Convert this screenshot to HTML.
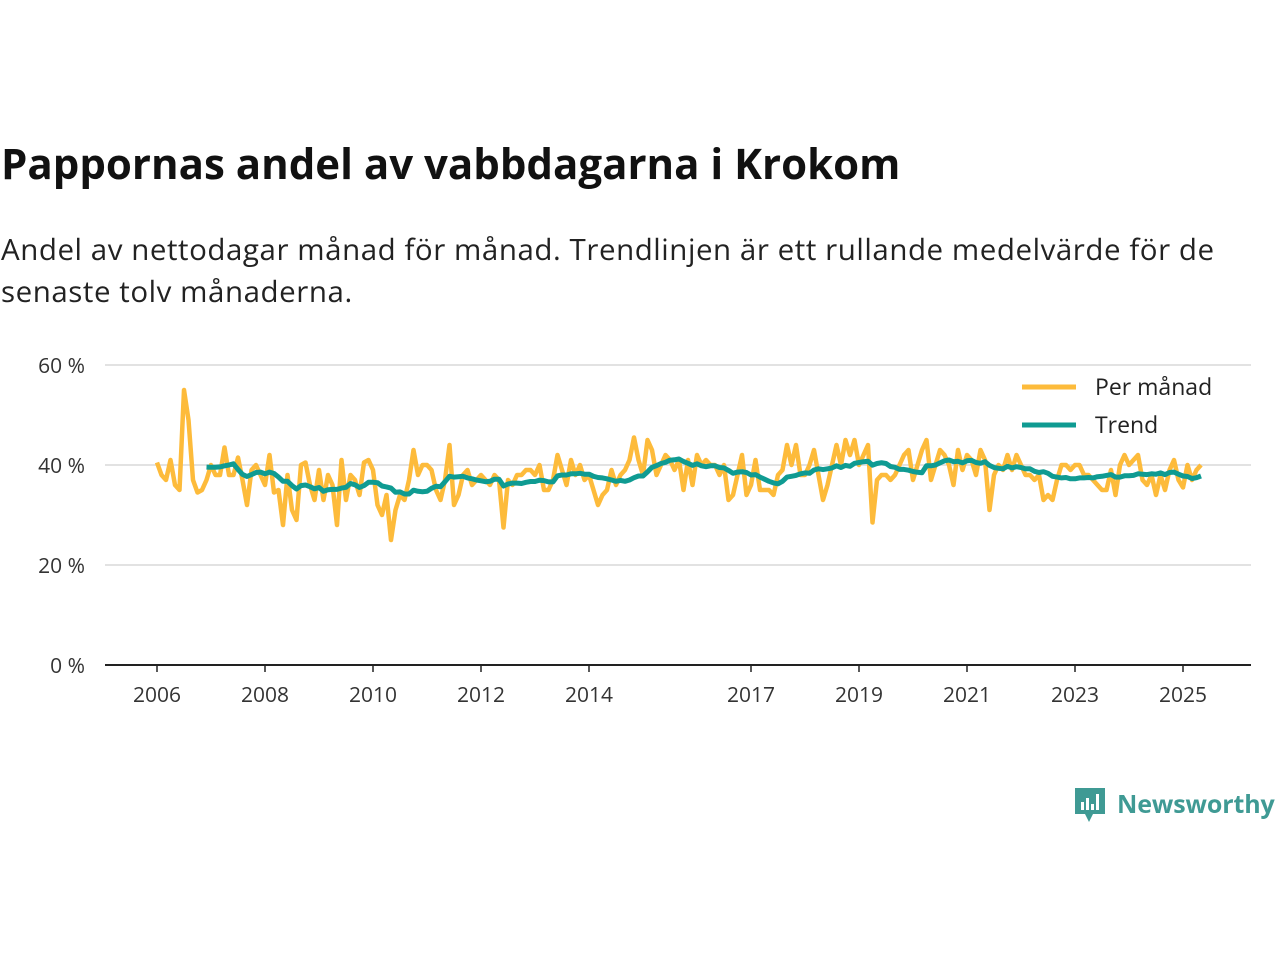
<!DOCTYPE html>
<html><head><meta charset="utf-8"><style>
body{margin:0;width:1280px;height:960px;background:#fff;font-family:"Open Sans","Liberation Sans",sans-serif;position:relative;overflow:hidden;color:#111}
h1{position:absolute;left:1px;top:135px;margin:0;font-size:42px;font-weight:bold;letter-spacing:0px}
p{position:absolute;left:1px;top:228px;margin:0;font-size:29.5px;line-height:42px;color:#222;width:1250px;letter-spacing:0.55px}
</style></head><body>
<h1>Pappornas andel av vabbdagarna i Krokom</h1>
<p>Andel av nettodagar månad för månad. Trendlinjen är ett rullande medelvärde för de senaste tolv månaderna.</p>
<svg id="chart" width="1280" height="960" style="position:absolute;left:0;top:0" xmlns="http://www.w3.org/2000/svg"></svg>
<div style="position:absolute;left:1073px;top:786px;display:flex;align-items:center">
<svg width="34" height="40"><path d="M2 2h30v26h-12l-4 8-4-8h-10z" fill="#3f9a94"/><rect x="8" y="16" width="3" height="8" fill="#fff"/><rect x="13" y="12" width="3" height="12" fill="#fff"/><rect x="18" y="18" width="3" height="6" fill="#fff"/><rect x="23" y="8" width="3" height="16" fill="#fff"/></svg>
<span style="font-size:25px;font-weight:bold;color:#3f9a94;margin-left:10px;margin-top:-4px;letter-spacing:-0.1px">Newsworthy</span></div>
<script>
const monthly=[40.5,38,37,41,36,35,55,49,37,34.5,35,37,
40,38,38,43.5,38,38,41.5,37,32,39,40,38,
36,42,34.5,35,28,38,31,29,40,40.5,36,33,
39,33,38,36,28,41,33,38,37,34,40.5,41,
39,32,30,34,25,31,34,33,37,43,38,40,
40,39,35,33,37,44,32,34,38,39,36,37,
38,37,36,38,37,27.5,37,36,38,38,39,39,
38,40,35,35,37,42,39,36,41,38,40,37,
38,35,32,34,35,39,36,38,39,41,45.5,41,
38,45,43,38,40,42,41,39,41,35,41,36,
42,40,41,40,40,38,40,33,34,38,42,34,
36,41,35,35,35,34,38,39,44,40,44,38,
38,40,43,38,33,36,40,44,40,45,42,45,
40,42,44,28.5,37,38,38,37,38,40,42,43,
37,40,43,45,37,40,43,42,40,36,43,39,
42,41,38,43,41,31,38,40,39,42,39,42,
40,38,38,37,38,33,34,33,37,40,40,39,
40,40,38,38,37,36,35,35,39,34,40,42,
40,41,42,37,36,38,34,38,35,39,41,37,
35.5,40,37,39,40];
const startYear=2006;
const xTicks=[2006,2008,2010,2012,2014,2017,2019,2021,2023,2025];
const yTicks=[0,20,40,60];
const S="http://www.w3.org/2000/svg",svg=document.getElementById('chart');
const X=t=>157+(t-2006)*54.0;
const Y=v=>665-v*5;
function mk(tag,attrs){const e=document.createElementNS(S,tag);for(const k in attrs)e.setAttribute(k,attrs[k]);svg.appendChild(e);return e;}
yTicks.forEach(v=>{
 if(v>0){const g=mk('line',{x1:105,x2:1251,y1:Y(v),y2:Y(v),stroke:'#d8d8d8','stroke-width':1.5});
 
 }
 const t=mk('text',{x:85,y:Y(v)+8,'text-anchor':'end','font-size':21,fill:'#333','font-family':'"Open Sans","Liberation Sans",sans-serif'});t.textContent=v+' %';
 
 
});
const ax=mk('line',{x1:105,x2:1251,y1:665,y2:665,stroke:'#222','stroke-width':2});


xTicks.forEach(yr=>{
 const tk=mk('line',{x1:X(yr),x2:X(yr),y1:665,y2:672,stroke:'#222','stroke-width':1.5});
 
 
 const t=mk('text',{x:X(yr),y:702,'text-anchor':'middle','font-size':21,fill:'#333','font-family':'"Open Sans","Liberation Sans",sans-serif'});t.textContent=yr;
 
 
});
const tOf=i=>startYear+i/12;
const mp=monthly.map((v,i)=>X(tOf(i)).toFixed(1)+','+Y(v).toFixed(1)).join(' ');
const l1=mk('polyline',{points:mp,fill:'none',stroke:'#fdbb3b','stroke-width':4.5,'stroke-linejoin':'round'});


const trend=[];
for(let i=11;i<monthly.length;i++){let s=0;for(let j=i-11;j<=i;j++)s+=monthly[j];trend.push([i,s/12]);}
const tp=trend.map(([i,v])=>X(tOf(i)).toFixed(1)+','+Y(v).toFixed(1)).join(' ');
const l2=mk('polyline',{points:tp,fill:'none',stroke:'#0f9b92','stroke-width':5,'stroke-linejoin':'round'});


[['Per månad','#fdbb3b',387],['Trend','#0f9b92',425]].forEach(([n,c,y])=>{
 const l=mk('line',{x1:1022,x2:1076,y1:y,y2:y,stroke:c,'stroke-width':5});
 
 
 const t=mk('text',{x:1095,y:y+8,'font-size':23,fill:'#222','font-family':'"Open Sans","Liberation Sans",sans-serif'});t.textContent=n;
 
 
});
</script>
</body></html>
